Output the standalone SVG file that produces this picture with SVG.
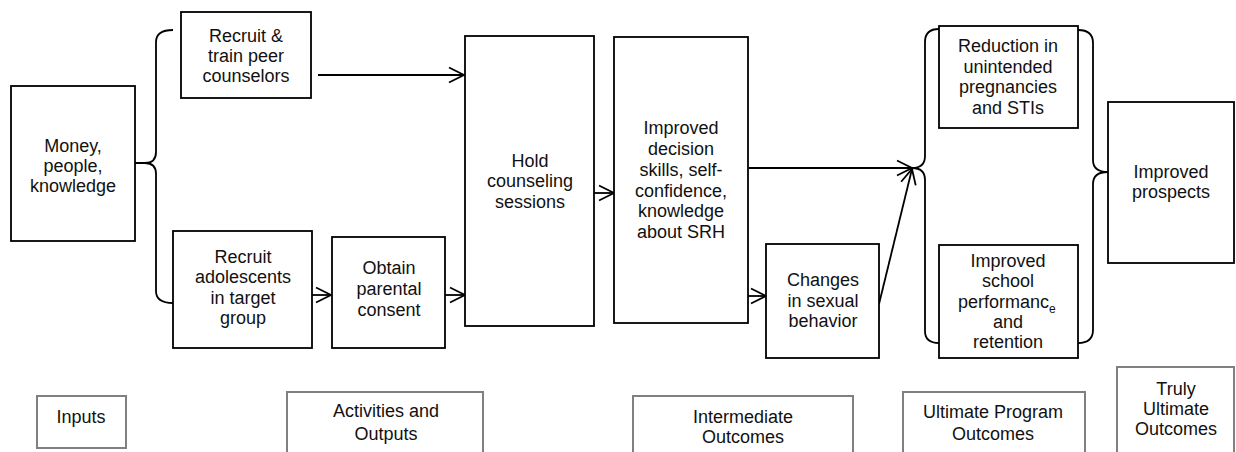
<svg xmlns="http://www.w3.org/2000/svg" width="1236" height="452" viewBox="0 0 1236 452">
<style>
.box{fill:#fff;stroke:#000;stroke-width:1.8}
.lbl{fill:#fff;stroke:#808080;stroke-width:2}
.t{font-family:"Liberation Sans",Arial,sans-serif;font-size:18px;fill:#111;text-anchor:middle}
.c{fill:none;stroke:#000;stroke-width:1.8}
.br{fill:none;stroke:#000;stroke-width:1.8;stroke-linejoin:round}
</style>
<defs>
<marker id="arr" markerUnits="userSpaceOnUse" markerWidth="20" markerHeight="18" viewBox="0 0 20 18" refX="17" refY="9" orient="auto">
<path d="M2,1.5 L17,9 L2,16.5" fill="none" stroke="#000" stroke-width="1.8"/>
</marker>
</defs>
<rect width="1236" height="452" fill="#fff"/>

<g id="connectors">
<path class="br" d="M135,163 L145,163 Q156,163 156,152 L156,42 Q156,30 173,30"/>
<path class="br" d="M145,163 Q156,163 156,174 L156,291 Q156,303 173,303"/>
<path class="br" d="M939,29 Q925,29 925,42 L925,156 Q925,168 912,168"/>
<path class="br" d="M912,168 Q925,168 925,180 L925,331 Q925,343 939,343"/>
<path class="br" d="M1078,30 Q1093,30 1093,43 L1093,160 Q1093,172 1108,172"/>
<path class="br" d="M1108,172 Q1093,172 1093,184 L1093,330 Q1093,343 1078,343"/>
<line class="c" x1="318" y1="75" x2="464" y2="75" marker-end="url(#arr)"/>
<line class="c" x1="312" y1="295" x2="331" y2="295" marker-end="url(#arr)"/>
<line class="c" x1="445" y1="295" x2="465" y2="295" marker-end="url(#arr)"/>
<line class="c" x1="594" y1="193" x2="614" y2="193" marker-end="url(#arr)"/>
<line class="c" x1="748" y1="296" x2="766" y2="296" marker-end="url(#arr)"/>
<line class="c" x1="749" y1="168" x2="912" y2="168" marker-end="url(#arr)"/>
<line class="c" x1="879" y1="304" x2="912" y2="169" marker-end="url(#arr)"/>
</g>

<g id="money">
<rect class="box" x="11" y="86" width="124" height="155"/>
<text class="t" x="73" y="152">Money,</text>
<text class="t" x="73" y="172">people,</text>
<text class="t" x="73" y="192">knowledge</text>
</g>
<g id="recruit-train">
<rect class="box" x="181" y="12" width="130" height="86"/>
<text class="t" x="246" y="42">Recruit &amp;</text>
<text class="t" x="246" y="62">train peer</text>
<text class="t" x="246" y="82">counselors</text>
</g>
<g id="recruit-adolescents">
<rect class="box" x="173" y="231" width="139" height="117"/>
<text class="t" x="243" y="263">Recruit</text>
<text class="t" x="243" y="283">adolescents</text>
<text class="t" x="243" y="304">in target</text>
<text class="t" x="243" y="324">group</text>
</g>
<g id="parental-consent">
<rect class="box" x="332" y="237" width="113" height="111"/>
<text class="t" x="389" y="274">Obtain</text>
<text class="t" x="389" y="295">parental</text>
<text class="t" x="389" y="316">consent</text>
</g>
<g id="counseling">
<rect class="box" x="465" y="36" width="129" height="290"/>
<text class="t" x="530" y="167">Hold</text>
<text class="t" x="530" y="187">counseling</text>
<text class="t" x="530" y="208">sessions</text>
</g>
<g id="improved-skills">
<rect class="box" x="614" y="37" width="134" height="286"/>
<text class="t" x="681" y="134">Improved</text>
<text class="t" x="681" y="155">decision</text>
<text class="t" x="681" y="176">skills, self-</text>
<text class="t" x="681" y="197">confidence,</text>
<text class="t" x="681" y="217">knowledge</text>
<text class="t" x="681" y="238">about SRH</text>
</g>
<g id="sexual-behavior">
<rect class="box" x="766" y="244" width="113" height="114"/>
<text class="t" x="823" y="286">Changes</text>
<text class="t" x="823" y="307">in sexual</text>
<text class="t" x="823" y="327">behavior</text>
</g>
<g id="reduction">
<rect class="box" x="939" y="26" width="139" height="102"/>
<text class="t" x="1008" y="52">Reduction in</text>
<text class="t" x="1008" y="73">unintended</text>
<text class="t" x="1008" y="93">pregnancies</text>
<text class="t" x="1008" y="114">and STIs</text>
</g>
<g id="school">
<rect class="box" x="939" y="245" width="139" height="113"/>
<text class="t" x="1008" y="267">Improved</text>
<text class="t" x="1008" y="287">school</text>
<text class="t" x="958" y="308" style="text-anchor:start">performanc<tspan dy="5" font-size="12">e</tspan></text>
<text class="t" x="1008" y="328">and</text>
<text class="t" x="1008" y="348">retention</text>
</g>
<g id="prospects">
<rect class="box" x="1108" y="102" width="126" height="161"/>
<text class="t" x="1171" y="178">Improved</text>
<text class="t" x="1171" y="198">prospects</text>
</g>

<g id="label-inputs">
<rect class="lbl" x="37" y="396" width="89" height="52"/>
<text class="t" x="81" y="423">Inputs</text>
</g>
<g id="label-activities">
<rect class="lbl" x="287" y="392" width="196" height="70"/>
<text class="t" x="386" y="417">Activities and</text>
<text class="t" x="386" y="440">Outputs</text>
</g>
<g id="label-intermediate">
<rect class="lbl" x="633" y="396" width="220" height="66"/>
<text class="t" x="743" y="423">Intermediate</text>
<text class="t" x="743" y="443">Outcomes</text>
</g>
<g id="label-ultimate">
<rect class="lbl" x="903" y="392" width="182" height="70"/>
<text class="t" x="993" y="418">Ultimate Program</text>
<text class="t" x="993" y="440">Outcomes</text>
</g>
<g id="label-truly">
<rect class="lbl" x="1117" y="367" width="117" height="95"/>
<text class="t" x="1176" y="395">Truly</text>
<text class="t" x="1176" y="415">Ultimate</text>
<text class="t" x="1176" y="435">Outcomes</text>
</g>
</svg>
